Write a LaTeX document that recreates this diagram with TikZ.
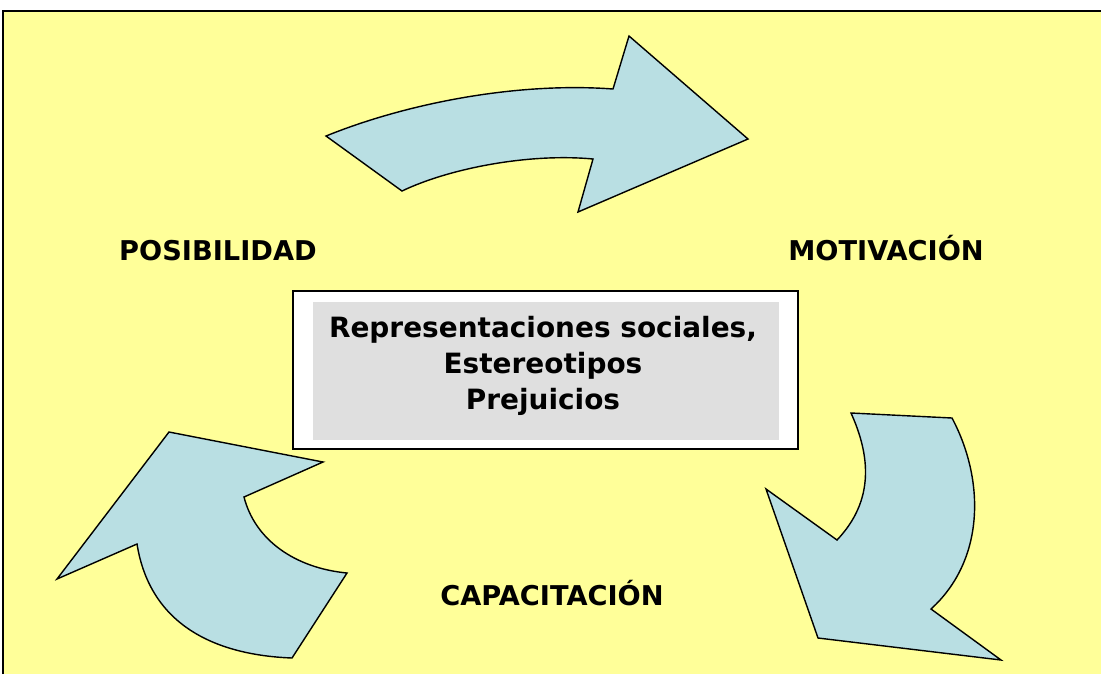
\documentclass[tikz,border=0pt]{standalone}
\usepackage{fontspec}
\usepackage{xcolor}
\usepackage{tikz}
\newfontfamily\etiqueta{DejaVu Sans}
\definecolor{fondoAmarillo}{RGB}{255,255,153}
\definecolor{flechaAzul}{RGB}{185,223,227}
\definecolor{cajaGris}{RGB}{223,223,223}
\tikzset{
  every flecha/.style={fill=flechaAzul,draw,line width=0.8pt,line join=miter},
  every etapa/.style={font=\etiqueta\bfseries\fontsize{15.5}{18}\selectfont,anchor=base,inner sep=0pt},
  every caja/.style={draw,line width=1.1pt,fill=white,inner sep=0pt},
}

\begin{document}
\begin{tikzpicture}[x=0.02cm,y=-0.02cm]
\useasboundingbox (0,0) rectangle (1101,674);
\fill[fondoAmarillo] (3,11) rectangle (1101,674);
\draw[line width=1pt] (3,674) -- (3,11) -- (1101,11);

% flechas del ciclo
\path[every flecha] (326,136) -- (402,191)
  .. controls (450,168) and (530,153) .. (593,159) -- (578,212) -- (748,139)
  -- (629,36) -- (613,89) .. controls (520,82) and (410,102) .. (326,136) -- cycle;
\path[every flecha] (851,413) -- (952,418)
  .. controls (985,480) and (985,560) .. (931,609) -- (1001,660) -- (818,638)
  -- (766,489) -- (837,540) .. controls (875,500) and (870,455) .. (851,413) -- cycle;
\path[every flecha] (169,432) -- (323,462) -- (244,497)
  .. controls (255,540) and (295,568) .. (347,573) -- (292,658)
  .. controls (215,655) and (150,625) .. (137,544) -- (57,579) -- cycle;

\node[every etapa] (posibilidad) at (218,260) {POSIBILIDAD};
\node[every etapa] (motivacion) at (886,260) {MOTIVACIÓN};
\node[every etapa] (capacitacion) at (552,605) {CAPACITACIÓN};

\node[every caja,minimum width=10.1cm,minimum height=3.16cm] (marco) at (545.5,370) {};
\node[fill=cajaGris,minimum width=9.32cm,minimum height=2.76cm,inner sep=0pt] (fondo) at (546,371) {};
\node[font=\etiqueta\bfseries\fontsize{15.9}{20.4}\selectfont,align=center,inner sep=0pt] (texto) at (543,366)
  {Representaciones sociales,\\Estereotipos\\Prejuicios};
\end{tikzpicture}
\end{document}
